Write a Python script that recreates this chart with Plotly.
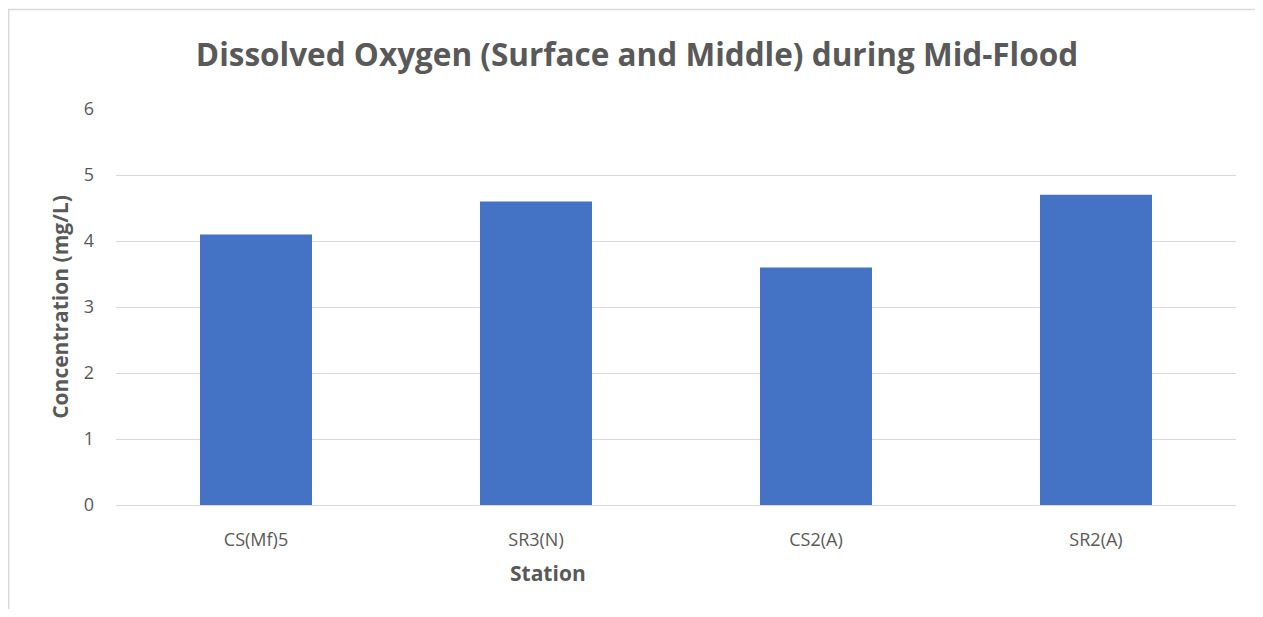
import plotly.graph_objects as go

stations = ["CS(Mf)5", "SR3(N)", "CS2(A)", "SR2(A)"]
do_values = [4.1, 4.6, 3.6, 4.7]
y_ticks = [0, 1, 2, 3, 4, 5, 6]

OFF = 8  # page body margin
W, H = 1263 - 2 * OFF, 617 - 2 * OFF
# plot area in page pixels: x 116..1236, y 109..505
L = 116 - OFF
T = 109 - OFF
R = W - (1236 - OFF)
B = H - (505 - OFF)
pw = W - L - R
ph = H - T - B

def px_x(p):
    return (p - OFF - L) / pw

def px_y(p):
    return (H - B - (p - OFF)) / ph

fig = go.Figure(go.Bar(
    x=stations, y=do_values, marker=dict(color="#4472C4", line=dict(width=0)),
    width=0.4,
))

fig.update_layout(
    width=W, height=H,
    margin=dict(l=L, r=R, t=T, b=B),
    paper_bgcolor="white", plot_bgcolor="white",
    font=dict(family="Open Sans", color="#595959"),
    title=dict(text="<b>Dissolved Oxygen (Surface and Middle) during Mid-Flood</b>",
               x=(637 - OFF) / W, xanchor="center", xref="container",
               y=1 - (55 - OFF) / H, yanchor="middle",
               font=dict(size=31.5, color="#595959")),
    showlegend=False,
    bargap=0.6,
)
fig.update_yaxes(range=[0, 6], tickvals=y_ticks, showgrid=True, gridcolor="#D9D9D9",
                 gridwidth=1.3, zeroline=False, showline=False, ticks="",
                 tickfont=dict(size=18, color="#595959"), ticklabelstandoff=21,
                 title=dict(text="<b>Concentration (mg/L)</b>", font=dict(size=21, color="#595959"),
                            standoff=9))
fig.update_xaxes(showgrid=False, showline=True, linecolor="#D9D9D9", linewidth=1.3, ticks="",
                 tickfont=dict(size=18, color="#595959"), ticklabelstandoff=18)

fig.add_annotation(text="<b>Station</b>", xref="paper", yref="paper",
                   x=px_x(548), y=px_y(573), xanchor="center", yanchor="middle",
                   showarrow=False, font=dict(size=21, color="#595959"))

fig.add_shape(type="rect", xref="paper", yref="paper",
              x0=px_x(8.7), x1=px_x(1300), y0=px_y(700), y1=px_y(9.5),
              line=dict(color="#D9D9D9", width=1.5), fillcolor="rgba(0,0,0,0)", layer="below")

fig.write_html("out.html")
